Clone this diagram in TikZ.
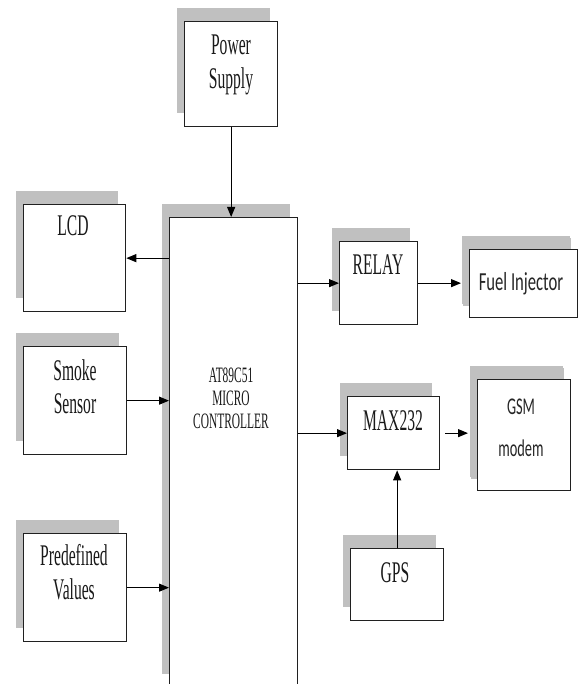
\documentclass[tikz,border=0pt]{standalone}
\usepackage{fontspec}
\setmainfont{Liberation Serif}[FakeStretch=0.52]
\newfontfamily\calfont{Carlito}[FakeStretch=0.64]
\newfontfamily\calfontn{Carlito}[FakeStretch=0.6]
\usetikzlibrary{arrows.meta,shadows}
\definecolor{shade}{HTML}{C0C0C0}
\definecolor{edge}{HTML}{202020}
\tikzset{
  blk/.style={draw=edge, line width=1.3pt, fill=white, inner sep=0pt, anchor=north west,
    general shadow={fill=shade, shadow xshift=-8pt, shadow yshift=14pt}},
  txt/.style={anchor=base, inner sep=0pt, text=black!90, font=\fontsize{30}{34}\selectfont},
  smalltxt/.style={anchor=base, inner sep=0pt, text=black!90, font=\fontsize{22}{24}\selectfont},
  sanstxt/.style={anchor=base, inner sep=0pt, text=black!85, font=\calfont\fontsize{26}{28}\selectfont},
  gsmtxt/.style={anchor=base, inner sep=0pt, text=black!85, font=\calfontn\fontsize{24}{28}\selectfont},
  arr/.style={draw=black, line width=1.1pt, -{Triangle[length=10pt,width=8pt]}}
}
\begin{document}
\begin{tikzpicture}[x=1pt,y=-1pt]
\useasboundingbox (0,0) rectangle (578,684);
% blocks
\node[blk, minimum width=93pt, minimum height=105pt] (ps) at (184,21) {};
\node[blk, minimum width=102pt, minimum height=107pt] (lcd) at (23,204) {};
\node[blk, minimum width=103pt, minimum height=108pt] (smoke) at (23,346) {};
\node[blk, minimum width=103pt, minimum height=108pt] (pre) at (23,533) {};
\node[blk, minimum width=128pt, minimum height=470pt] (mc) at (169,217) {};
\node[blk, minimum width=78pt, minimum height=83pt] (relay) at (339,241) {};
\node[blk, minimum width=108pt, minimum height=68pt, general shadow={fill=shade, shadow xshift=-7pt, shadow yshift=12pt}] (fuel) at (469,249) {};
\node[blk, minimum width=92pt, minimum height=73pt] (max) at (347,396) {};
\node[blk, minimum width=93pt, minimum height=111pt, general shadow={fill=shade, shadow xshift=-7pt, shadow yshift=12pt}] (gsm) at (477,379) {};
\node[blk, minimum width=93pt, minimum height=72pt] (gps) at (350,548) {};
% labels
\node[txt] (psA) at (231,55) {Power};
\node[txt] (psB) at (231,89) {Supply};
\node[txt] (lcdA) at (73,236) {LCD};
\node[txt] (smA) at (75,380) {Smoke};
\node[txt] (smB) at (75,413) {Sensor};
\node[txt] (prA) at (74,565) {Predefined};
\node[txt] (prB) at (74,599) {Values};
\node[smalltxt] (mcA) at (231,382) {AT89C51};
\node[smalltxt] (mcB) at (231,405) {MICRO};
\node[smalltxt] (mcC) at (231,428) {CONTROLLER};
\node[txt] (relA) at (378,274) {RELAY};
\node[sanstxt] (fuA) at (521,290) {Fuel Injector};
\node[txt] (maA) at (393,430) {MAX232};
\node[gsmtxt] (gsA) at (521,414) {GSM};
\node[gsmtxt] (gsB) at (521,456) {modem};
\node[txt] (gpA) at (395,582) {GPS};
% connectors
\draw[arr] (ps.south) -- (ps.south |- mc.north);
\draw[arr] (lcd.east -| mc.west) -- (lcd.east);
\draw[arr] (smoke.east) -- (smoke.east -| mc.west);
\draw[arr] (pre.east) -- (pre.east -| mc.west);
\draw[arr] (relay.west -| mc.east) -- (relay.west);
\draw[arr, shorten >=8pt] (relay.east) -- (fuel.west |- relay.east);
\draw[arr] (max.west -| mc.east) -- (max.west);
\draw[arr, shorten <=5pt, shorten >=9pt] (max.east) -- (max.east -| gsm.west);
\draw[arr] (gps.north) -- (gps.north |- max.south);
\end{tikzpicture}
\end{document}
